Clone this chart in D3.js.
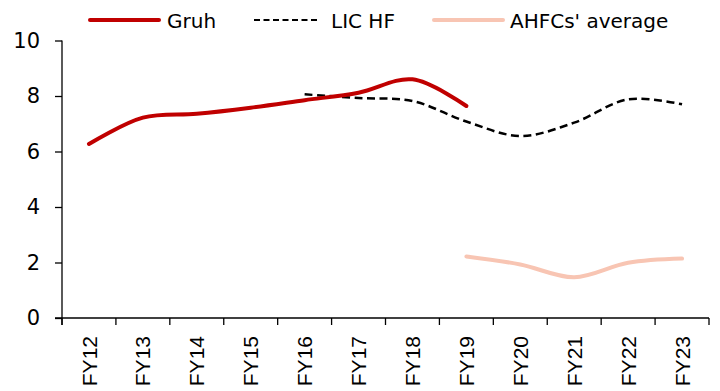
<!DOCTYPE html>
<html>
<head>
<meta charset="utf-8">
<script src="https://cdn.jsdelivr.net/npm/d3@7"></script>
<style>
  html, body { margin: 0; padding: 0; background: #fff; }
  svg { display: block; }
</style>
</head>
<body>
<svg id="chart" width="720" height="391"></svg>
<script>
const categories = ["FY12","FY13","FY14","FY15","FY16","FY17","FY18","FY19","FY20","FY21","FY22","FY23"];
const gruh = [6.27, 7.22, 7.36, 7.58, 7.85, 8.12, 8.6, 7.64, null, null, null, null];
const licHF = [null, null, null, null, 8.06, 7.93, 7.82, 7.08, 6.56, 7.04, 7.88, 7.70];
const ahfcAvg = [null, null, null, null, null, null, null, 2.22, 1.93, 1.47, 1.99, 2.14];
const yTicks = [0, 2, 4, 6, 8, 10];
const seriesNames = ["Gruh", "LIC HF", "AHFCs' average"];

const svg = d3.select("#chart");
const mLeft = 62, mRight = 709, mTop = 40.5, mBottom = 318;

const x = d3.scaleBand().domain(categories).range([mLeft, mRight]).padding(0);
const y = d3.scaleLinear().domain([0, 10]).range([mBottom, mTop]);
const cx = d => x(d) + x.bandwidth() / 2;

const yFont = "'DejaVu Sans', sans-serif";

// Y axis
const yAxis = svg.append("g")
  .attr("transform", `translate(${mLeft},0)`)
  .call(d3.axisLeft(y).tickValues(yTicks).tickSize(7).tickPadding(15).tickSizeOuter(0).tickFormat(d3.format("d")));
yAxis.select(".domain").attr("stroke", "#000").attr("stroke-width", 1.3)
  .attr("d", `M0,${mTop}V${mBottom + 7}`);
yAxis.selectAll(".tick line").attr("stroke", "#000").attr("stroke-width", 1.3);
yAxis.selectAll(".tick text").attr("font-family", yFont).attr("font-size", 21).attr("fill", "#000");

// X axis
const xAxis = svg.append("g")
  .attr("transform", `translate(0,${mBottom})`)
  .call(d3.axisBottom(x).tickValues([]).tickSizeOuter(0));
xAxis.select(".domain").attr("stroke", "#000").attr("stroke-width", 1.3)
  .attr("d", `M${mLeft - 7},0H${mRight}`);
const tickPos = categories.map(c => x(c)).concat([x(categories[categories.length - 1]) + x.bandwidth()]);
xAxis.selectAll("line.xt").data(tickPos).enter().append("line")
  .attr("class", "xt")
  .attr("x1", d => d).attr("x2", d => d)
  .attr("y1", 0).attr("y2", 7)
  .attr("stroke", "#000").attr("stroke-width", 1.3);
xAxis.selectAll("text.xl").data(categories).enter().append("text")
  .attr("class", "xl")
  .attr("transform", d => `translate(${cx(d)},18) rotate(-90)`)
  .attr("dy", "0.36em")
  .attr("text-anchor", "end")
  .attr("font-family", "'Liberation Sans', Arial, sans-serif")
  .attr("font-size", 21)
  .attr("fill", "#000")
  .text(d => d);

// Lines
const line = d3.line()
  .defined(d => d.v !== null)
  .x(d => cx(d.c))
  .y(d => y(d.v))
  .curve(d3.curveCatmullRom.alpha(0.5));

const toPts = arr => categories.map((c, i) => ({ c, v: arr[i] }));

svg.append("path").datum(toPts(ahfcAvg))
  .attr("d", line).attr("fill", "none")
  .attr("stroke", "#F8C5B3").attr("stroke-width", 4).attr("stroke-linecap", "round");

svg.append("path").datum(toPts(licHF))
  .attr("d", line).attr("fill", "none")
  .attr("stroke", "#000").attr("stroke-width", 2.5).attr("stroke-dasharray", "8,4.5");

svg.append("path").datum(toPts(gruh))
  .attr("d", line).attr("fill", "none")
  .attr("stroke", "#C00000").attr("stroke-width", 4).attr("stroke-linecap", "round");

// Legend
const legendItems = [
  { name: seriesNames[0], x1: 90, x2: 159, tx: 167, color: "#C00000", w: 4, dash: null },
  { name: seriesNames[1], x1: 254, x2: 318, tx: 331, color: "#000", w: 2, dash: "6,3.5" },
  { name: seriesNames[2], x1: 434, x2: 503, tx: 510, color: "#F8C5B3", w: 4, dash: null }
];
const lg = svg.append("g");
lg.selectAll("line").data(legendItems).enter().append("line")
  .attr("x1", d => d.x1).attr("x2", d => d.x2)
  .attr("y1", 20).attr("y2", 20)
  .attr("stroke", d => d.color).attr("stroke-width", d => d.w)
  .attr("stroke-linecap", d => d.dash ? "butt" : "round")
  .attr("stroke-dasharray", d => d.dash);
lg.selectAll("text").data(legendItems).enter().append("text")
  .attr("x", d => d.tx).attr("y", 27.5)
  .attr("font-family", yFont).attr("font-size", 20).attr("fill", "#000")
  .text(d => d.name);
</script>
</body>
</html>
